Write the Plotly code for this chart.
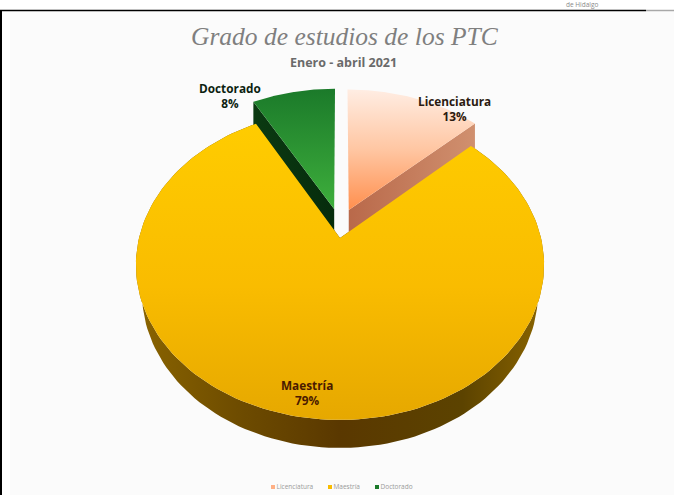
import numpy as np
import plotly.graph_objects as go

categories = ["Licenciatura", "Maestría", "Doctorado"]
values = [13, 79, 8]
title_text = "Grado de estudios de los PTC"
subtitle_text = "Enero - abril 2021"
corner_text = "de Hidalgo"

# view / projection of the tilted disc (pixels of the 674x495 page)
W, H = 674, 495
CX, CY = 340, 238
A, K, P = 201.0, 150.3, 0.174
DEPTH = 28
BOTTOM_SCALE = 0.97
# explode vectors in disc units for each slice
EXPLODE = [(0.045, -0.193), (0.0, 0.0), (-0.03, -0.2)]

# first stop = largest y value on the reversed axis (bottom of the page)
TOP_SCALES = [
    [[0, "#FF8F4E"], [0.5, "#FFC6A2"], [1, "#FFEDE3"]],
    [[0, "#E6A800"], [0.45, "#F9BC00"], [1, "#FFCC00"]],
    [[0, "#3EAF3C"], [1, "#1B7A2A"]],
]
SIDE_SCALES = [
    [[0, "#B9694A"], [1, "#D0906F"]],
    [[0, "#8A6400"], [0.25, "#6E4C00"], [0.5, "#5A3800"], [0.8, "#5C4300"], [1, "#8A6400"]],
    [[0, "#0B3A12"], [1, "#062C0C"]],
]
LABEL_POS = [(454, 108), (307, 392), (230, 95)]
LABEL_COL = ["#2B1A10", "#4A1A00", "#0C1F10"]
LEGEND_X = [273, 330, 377]
LEGEND_Y = 487
LEGEND_COL = ["#FFB085", "#F9BC00", "#1B7A2A"]


def project(u, v):
    d = 1 - P * v
    return CX + A * u / d, CY + K * v / d


def wedge(t0, t1, ex):
    th = np.linspace(t0, t1, 160)
    u = np.r_[0, np.sin(th), 0] + ex[0]
    v = np.r_[0, -np.cos(th), 0] + ex[1]
    return project(u, v)


fig = go.Figure()
fractions = np.array(values) / sum(values)
edges = np.r_[0, np.cumsum(fractions)] * 2 * np.pi

# extruded sides first
for i in [1, 0, 2]:
    t0, t1 = edges[i], edges[i + 1]
    x, y = wedge(t0, t1, EXPLODE[i])
    if i == 1:
        bx = CX + (x - CX) * BOTTOM_SCALE
        sx = np.r_[x, bx[::-1]]
        sy = np.r_[y, (y + DEPTH)[::-1]]
    elif i == 0:  # right cut face
        sx = np.array([x[0], x[-2], x[-2], x[0]])
        sy = np.array([y[0], y[-2], y[-2] + DEPTH, y[0] + DEPTH])
    else:  # left cut face
        sx = np.array([x[0], x[1], x[1], x[0]])
        sy = np.array([y[0], y[1], y[1] + DEPTH, y[0] + DEPTH])
    fig.add_trace(go.Scatter(
        x=sx, y=sy, mode="lines", line=dict(width=0), fill="toself",
        fillgradient=dict(type="horizontal", colorscale=SIDE_SCALES[i]),
        showlegend=False, hoverinfo="skip"))

# top faces
for i in [1, 0, 2]:
    x, y = wedge(edges[i], edges[i + 1], EXPLODE[i])
    fig.add_trace(go.Scatter(
        x=x, y=y, mode="lines", line=dict(width=0), fill="toself",
        fillgradient=dict(type="vertical", colorscale=TOP_SCALES[i]),
        showlegend=False, name=categories[i], hoverinfo="name"))

# legend keys and names
for i, c in enumerate(categories):
    fig.add_trace(go.Scatter(
        x=[LEGEND_X[i]], y=[LEGEND_Y], mode="markers+text", name=c, text=[c],
        textposition="middle right", textfont=dict(size=6.5, color="#9A9A9A", family="Open Sans"),
        marker=dict(color=LEGEND_COL[i], size=4, symbol="square"), showlegend=False))

annotations = [
    dict(x=345, y=36, text=f"<i>{title_text}</i>", showarrow=False,
         font=dict(family="Liberation Serif", size=25.5, color="#7F7F7F"), xanchor="center", yanchor="middle"),
    dict(x=343, y=62, text=f"<b>{subtitle_text}</b>", showarrow=False,
         font=dict(family="Open Sans", size=12.5, color="#6A6A6A"), xanchor="center", yanchor="middle"),
    dict(x=582, y=4.5, text=corner_text, showarrow=False,
         font=dict(family="Open Sans", size=6.5, color="#8A8A8A"), xanchor="center", yanchor="middle"),
]
for i, c in enumerate(categories):
    annotations.append(dict(
        x=LABEL_POS[i][0], y=LABEL_POS[i][1], text=f"<b>{c}<br>{values[i]}%</b>", showarrow=False,
        font=dict(family="Open Sans", size=11.8, color=LABEL_COL[i]), xanchor="center", yanchor="middle"))

fig.update_layout(
    width=W, height=H, margin=dict(l=0, r=0, t=0, b=0),
    paper_bgcolor="white", plot_bgcolor="#FBFBFB",
    xaxis=dict(range=[0, W], visible=False, fixedrange=True),
    yaxis=dict(range=[H, 0], visible=False, fixedrange=True),
    annotations=annotations,
    showlegend=False,
    shapes=[
        dict(type="rect", x0=0, x1=W, y0=0, y1=10, fillcolor="white", line_width=0, layer="below"),
        dict(type="rect", x0=0, x1=10, y0=0, y1=H, fillcolor="white", line_width=0, layer="below"),
        dict(type="line", x0=0, x1=646, y0=10.5, y1=10.5, line=dict(color="black", width=1.5)),
        dict(type="line", x0=646, x1=W, y0=10.5, y1=10.5, line=dict(color="#A8A8A8", width=1.5)),
        dict(type="line", x0=1, x1=1, y0=10, y1=H, line=dict(color="black", width=2)),
    ],
)
fig.write_html("out.html", config=dict(displayModeBar=False),
               post_script="document.body.style.margin='0';document.documentElement.style.overflow='hidden';")
